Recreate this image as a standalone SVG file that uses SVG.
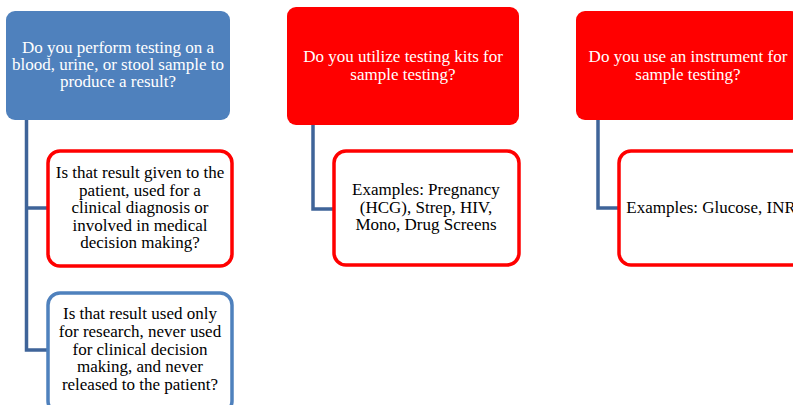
<svg xmlns="http://www.w3.org/2000/svg" width="793" height="405" viewBox="0 0 793 405">
<style>
text{font-family:"Liberation Serif","Times New Roman",serif;font-size:17px;text-anchor:middle}
.hw{fill:#ffffff}
.cb{fill:#000000}
.conn{fill:none;stroke:#3f6499;stroke-width:3.5}
.red{fill:#ff0000}
.blue{fill:#4f81bd}
.cred{fill:#ffffff;stroke:#ff0000;stroke-width:3.5}
.cblue{fill:#ffffff;stroke:#4f81bd;stroke-width:3.5}
</style>
<rect width="793" height="405" fill="#ffffff"/>
<g id="connectors">
<path class="conn" d="M26.5 120 V350 H48 M26.5 208 H48"/>
<path class="conn" d="M313 125 V209 H333"/>
<path class="conn" d="M598 120 V208 H618"/>
</g>
<g id="n1">
<rect class="blue" x="6" y="11" width="224" height="109" rx="9"/>
<text class="hw" x="118" y="53">Do you perform testing on a</text>
<text class="hw" x="118" y="70">blood, urine, or stool sample to</text>
<text class="hw" x="118" y="87">produce a result?</text>
</g>
<g id="n1a">
<rect class="cred" x="48" y="151" width="184" height="115" rx="12"/>
<text class="cb" x="140" y="178">Is that result given to the</text>
<text class="cb" x="140" y="195.5">patient, used for a</text>
<text class="cb" x="140" y="213">clinical diagnosis or</text>
<text class="cb" x="140" y="230.5">involved in medical</text>
<text class="cb" x="140" y="248">decision making?</text>
</g>
<g id="n1b">
<rect class="cblue" x="48" y="293" width="184" height="120" rx="12"/>
<text class="cb" x="140" y="319">Is that result used only</text>
<text class="cb" x="140" y="337">for research, never used</text>
<text class="cb" x="140" y="355">for clinical decision</text>
<text class="cb" x="140" y="372">making, and never</text>
<text class="cb" x="140" y="390">released to the patient?</text>
</g>
<g id="n2">
<rect class="red" x="287" y="7" width="232" height="118" rx="9"/>
<text class="hw" x="403" y="62">Do you utilize testing kits for</text>
<text class="hw" x="403" y="80">sample testing?</text>
</g>
<g id="n2a">
<rect class="cred" x="334" y="151" width="185" height="114" rx="12"/>
<text class="cb" x="426" y="195">Examples: Pregnancy</text>
<text class="cb" x="426" y="213">(HCG), Strep, HIV,</text>
<text class="cb" x="426" y="230">Mono, Drug Screens</text>
</g>
<g id="n3">
<rect class="red" x="576" y="11" width="224" height="109" rx="9"/>
<text class="hw" x="688" y="62">Do you use an instrument for</text>
<text class="hw" x="688" y="80">sample testing?</text>
</g>
<g id="n3a">
<rect class="cred" x="619" y="151" width="185" height="114" rx="12"/>
<text class="cb" x="711" y="213">Examples: Glucose, INR</text>
</g>
</svg>
